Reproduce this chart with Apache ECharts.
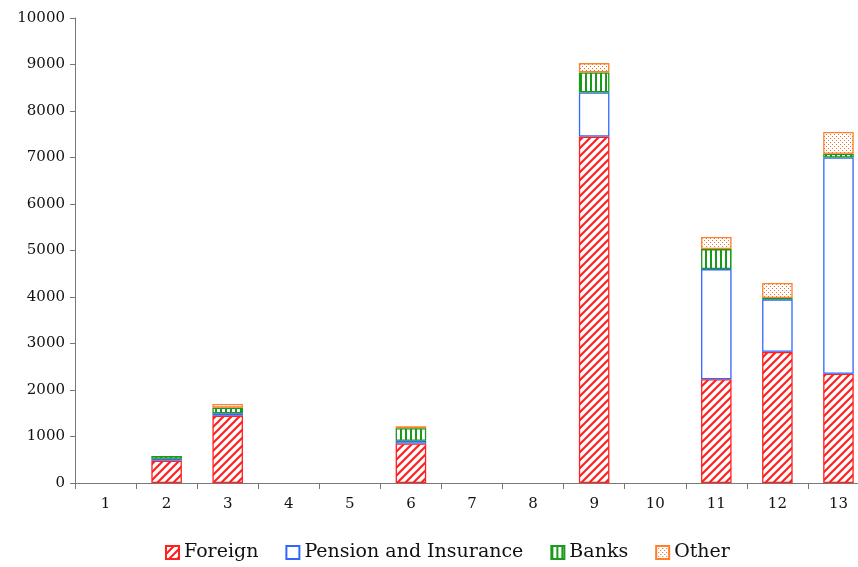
<!DOCTYPE html>
<html>
<head>
<meta charset="utf-8">
<script src="https://cdn.jsdelivr.net/npm/echarts@6/dist/echarts.min.js"></script>
<style>
  html, body { margin: 0; padding: 0; background: #ffffff; overflow: hidden; }
  /* the plot runs a little past the right edge of the picture */
  #chart { width: 870px; height: 567px; }
</style>
</head>
<body>
<div id="chart"></div>
<script>
// data
var categories = ['1', '2', '3', '4', '5', '6', '7', '8', '9', '10', '11', '12', '13'];
var foreign = [0, 480, 1450, 0, 0, 850, 0, 0, 7450, 0, 2230, 2820, 2350];
var pension = [0, 40, 50, 0, 0, 60, 0, 0, 950, 0, 2370, 1130, 4650];
var banks = [0, 60, 120, 0, 0, 270, 0, 0, 430, 0, 430, 30, 80];
var other = [0, 0, 80, 0, 0, 40, 0, 0, 200, 0, 260, 320, 470];
var yTicks = [0, 1000, 2000, 3000, 4000, 5000, 6000, 7000, 8000, 9000, 10000];

var FONT = '"DejaVu Serif", "Liberation Serif", serif';

// hatched fills
function makePattern(kind, color) {
  var c = document.createElement('canvas');
  var ctx = c.getContext('2d');
  if (kind === 'diag') {
    c.width = 8; c.height = 8;
    ctx.fillStyle = '#ffffff';
    ctx.fillRect(0, 0, 8, 8);
    ctx.strokeStyle = color;
    ctx.lineWidth = 2.2;
    ctx.beginPath();
    ctx.moveTo(-2, 10); ctx.lineTo(10, -2);
    ctx.moveTo(-6, 6); ctx.lineTo(6, -6);
    ctx.moveTo(2, 14); ctx.lineTo(14, 2);
    ctx.stroke();
  } else if (kind === 'vert') {
    c.width = 5; c.height = 5;
    ctx.fillStyle = '#ffffff';
    ctx.fillRect(0, 0, 5, 5);
    ctx.fillStyle = color;
    ctx.fillRect(0, 0, 2, 5);
  } else {
    c.width = 4; c.height = 4;
    ctx.fillStyle = '#ffffff';
    ctx.fillRect(0, 0, 4, 4);
    ctx.fillStyle = color;
    ctx.fillRect(0, 0, 1, 1);
    ctx.fillRect(2, 2, 1, 1);
  }
  return { image: c, repeat: 'repeat' };
}

// empty stack pieces are not drawn at all
function noZero(arr) {
  return arr.map(function (v) { return v === 0 ? null : v; });
}

var chart = echarts.init(document.getElementById('chart'));

function barSeries(name, data, fill, border) {
  return {
    name: name,
    type: 'bar',
    stack: 'total',
    barWidth: '50%',
    data: noZero(data),
    itemStyle: { color: fill, borderColor: border, borderWidth: 1.3 },
    emphasis: { disabled: true }
  };
}

var option = {
  backgroundColor: '#ffffff',
  animation: false,
  grid: { left: 75, right: 1, top: 18, bottom: 84 },
  legend: {
    bottom: 0,
    left: 160,
    icon: 'rect',
    itemWidth: 13,
    itemHeight: 13,
    itemGap: 27,
    textStyle: { fontFamily: FONT, fontSize: 19, color: '#111111' },
    data: ['Foreign', 'Pension and Insurance', 'Banks', 'Other']
  },
  xAxis: {
    type: 'category',
    data: categories,
    axisLine: { lineStyle: { color: '#777777', width: 1 } },
    axisTick: { show: true, alignWithLabel: false, length: 6, lineStyle: { color: '#777777' } },
    axisLabel: { fontFamily: FONT, fontSize: 15, color: '#111111', margin: 14 }
  },
  yAxis: {
    type: 'value',
    min: yTicks[0],
    max: yTicks[yTicks.length - 1],
    interval: 1000,
    splitLine: { show: false },
    axisLine: { show: true, lineStyle: { color: '#777777', width: 1 } },
    axisTick: { show: true, length: 5, lineStyle: { color: '#777777' } },
    axisLabel: {
      fontFamily: FONT, fontSize: 15, color: '#111111', margin: 10,
      formatter: function (v) { return String(v); }
    }
  },
  series: [
    barSeries('Foreign', foreign, makePattern('diag', '#ff2020'), '#ff2020'),
    barSeries('Pension and Insurance', pension, '#ffffff', '#3366ff'),
    barSeries('Banks', banks, makePattern('vert', '#1a9a1a'), '#1a9a1a'),
    barSeries('Other', other, makePattern('dots', '#e8702a'), '#ff7f2a')
  ]
};

chart.setOption(option);
</script>
</body>
</html>
